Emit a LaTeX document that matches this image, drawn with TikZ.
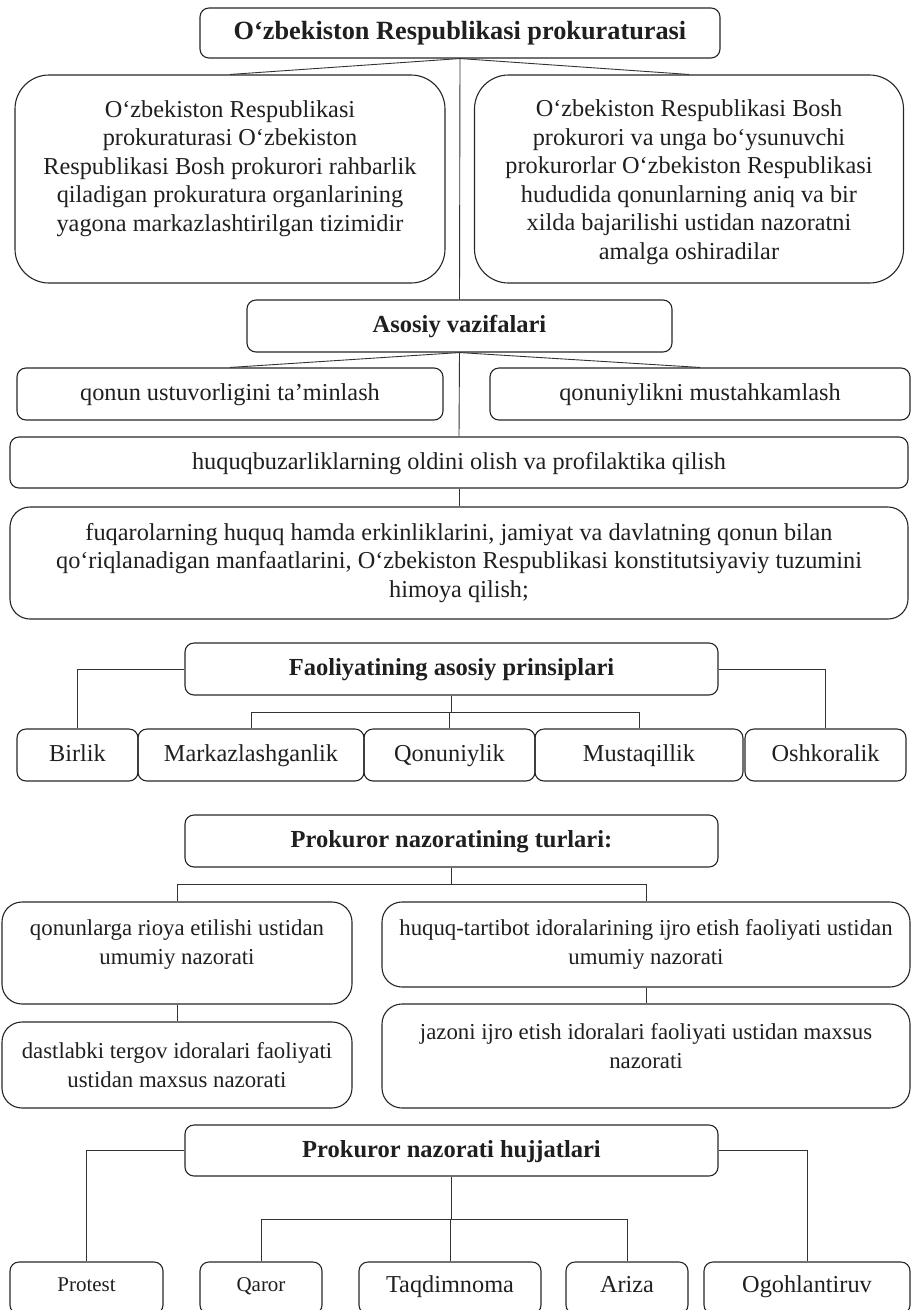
\documentclass[tikz,border=0pt]{standalone}
\usepackage{fontspec}
\setmainfont{Liberation Serif}
\usetikzlibrary{calc}
\begin{document}
\begin{tikzpicture}[x=1pt,y=-1pt,
  box/.style={draw=black!85, line width=1.1pt, rounded corners=9pt, align=center, inner sep=0pt,
    text=black!88, font=\fontsize{24.3}{28.5}\selectfont},
  one/.style={text height=18.5pt, text depth=5pt},
  bigbox/.style={box, rounded corners=34pt},
  midbox/.style={box, rounded corners=20pt, font=\fontsize{22.8}{28.8}\selectfont},
  headbox/.style={box, one, font=\bfseries\fontsize{24.5}{28}\selectfont},
  smallbox/.style={box, text height=13pt, text depth=5.5pt, font=\fontsize{21}{25}\selectfont},
  botbox/.style={box, text height=14pt, text depth=5pt},
  conn/.style={draw=black!80, line width=0.9pt}]
\useasboundingbox (0,0) rectangle (912,1310);

% top
\node[box, one, font=\bfseries\fontsize{26.3}{30}\selectfont, minimum width=520, minimum height=50] (title) at (460,33) {O‘zbekiston Respublikasi prokuraturasi};
\node[bigbox, minimum width=430, minimum height=208] (L1) at (230,179) {O‘zbekiston Respublikasi\\prokuraturasi O‘zbekiston\\Respublikasi Bosh prokurori rahbarlik\\qiladigan prokuratura organlarining\\yagona markazlashtirilgan tizimidir\\[-2pt]\mbox{}};
\node[bigbox, minimum width=429, minimum height=208] (R1) at (689,179) {\mbox{}\\[-5.5pt]O‘zbekiston Respublikasi Bosh\\prokurori va unga bo‘ysunuvchi\\prokurorlar O‘zbekiston Respublikasi\\hududida qonunlarning aniq va bir\\xilda bajarilishi ustidan nazoratni\\amalga oshiradilar};

% asosiy vazifalari
\node[headbox, minimum width=425, minimum height=52] (A) at (459.5,326) {Asosiy vazifalari};
\node[box, one, minimum width=426, minimum height=52] (Q1) at (230,394) {qonun ustuvorligini ta’minlash};
\node[box, one, minimum width=420, minimum height=52] (Q2) at (700,394) {qonuniylikni mustahkamlash};
\node[box, one, minimum width=898, minimum height=51] (H) at (459,462.5) {huquqbuzarliklarning oldini olish va profilaktika qilish};
\node[box, rounded corners=20pt, minimum width=898, minimum height=112] (F) at (459,563) {fuqarolarning huquq hamda erkinliklarini, jamiyat va davlatning qonun bilan\\qo‘riqlanadigan manfaatlarini, O‘zbekiston Respublikasi konstitutsiyaviy tuzumini\\himoya qilish;};

\draw[conn] (title.south) -- (L1.north);
\draw[conn] (title.south) -- (R1.north);
\draw[conn] (title.south) -- (A.north);
\draw[conn] (A.south) -- (Q1.north);
\draw[conn] (A.south) -- (Q2.north);
\draw[conn] (A.south) -- (H.north);
\draw[conn] (H.south) -- (F.north);

% principles
\node[headbox, minimum width=533, minimum height=52] (P) at (451.5,669) {Faoliyatining asosiy prinsiplari};
\node[box, one, minimum width=121, minimum height=52] (Bir) at (77.5,755) {Birlik};
\node[box, one, minimum width=226, minimum height=52] (Mar) at (251,755) {Markazlashganlik};
\node[box, one, minimum width=171, minimum height=52] (Qon) at (449.5,755) {Qonuniylik};
\node[box, one, minimum width=208, minimum height=52] (Mus) at (639,755) {Mustaqillik};
\node[box, one, minimum width=161, minimum height=52] (Osh) at (825.5,755) {Oshkoralik};
\coordinate (pj) at ($(P.south)+(0,17)$);
\draw[conn] (P.west) -| (Bir.north);
\draw[conn] (P.east) -| (Osh.north);
\draw[conn] (P.south) -- (pj);
\draw[conn] (Mar.north) |- (pj) -| (Mus.north);
\draw[conn] (Qon.north) -- (Qon.north |- pj);

% turlari
\node[headbox, minimum width=533, minimum height=52] (T) at (451.5,841) {Prokuror nazoratining turlari:};
\node[midbox, minimum width=350, minimum height=102] (T1) at (177,953) {qonunlarga rioya etilishi ustidan\\umumiy nazorati\\[-7pt]\mbox{}};
\node[midbox, minimum width=528, minimum height=85] (T2) at (646,944.5) {huquq-tartibot idoralarining ijro etish faoliyati ustidan\\umumiy nazorati};
\node[midbox, minimum width=350, minimum height=86] (T3) at (177,1065) {dastlabki tergov idoralari faoliyati\\ustidan maxsus nazorati};
\node[midbox, minimum width=528, minimum height=104] (T4) at (646,1056) {jazoni ijro etish idoralari faoliyati ustidan maxsus\\nazorati\\[-9pt]\mbox{}};
\coordinate (tj) at ($(T.south)+(0,17)$);
\draw[conn] (T.south) -- (tj);
\draw[conn] (T1.north) |- (tj) -| (T2.north);
\draw[conn] (T1.south) -- (T3.north);
\draw[conn] (T2.south) -- (T4.north);

% hujjatlari
\node[headbox, minimum width=533, minimum height=51] (D) at (451.5,1150.5) {Prokuror nazorati hujjatlari};
\node[smallbox, minimum width=153, minimum height=52] (D1) at (86.5,1288) {Protest};
\node[smallbox, minimum width=122, minimum height=52] (D2) at (261,1288) {Qaror};
\node[botbox, minimum width=182, minimum height=52] (D3) at (450,1288) {Taqdimnoma};
\node[botbox, minimum width=122, minimum height=52] (D4) at (627,1288) {Ariza};
\node[botbox, minimum width=206, minimum height=52] (D5) at (807,1288) {Ogohlantiruv};
\coordinate (dj) at ($(D.south)+(0,43)$);
\draw[conn] (D.west) -| (D1.north);
\draw[conn] (D.east) -| (D5.north);
\draw[conn] (D.south) -- (dj);
\draw[conn] (D2.north) |- (dj) -| (D4.north);
\draw[conn] (D3.north) -- (D3.north |- dj);
\end{tikzpicture}
\end{document}
